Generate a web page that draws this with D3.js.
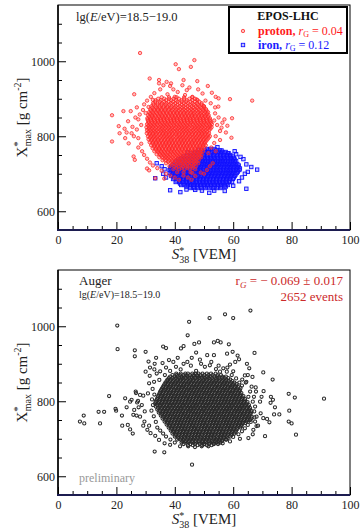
<!DOCTYPE html>
<html>
<head>
<meta charset="utf-8">
<script src="https://cdn.jsdelivr.net/npm/d3@7"></script>
<style>
body { margin: 0; background: #fff; }
svg { display: block; }
text { font-family: "Liberation Serif", "DejaVu Serif", serif; }
</style>
</head>
<body>
<svg width="360" height="530"></svg>
<script>
// axis ticks
var xTicks = [0, 20, 40, 60, 80, 100];
var yTicks = [600, 800, 1000];
var xMinor = [5, 10, 15, 25, 30, 35, 45, 50, 55, 65, 70, 75, 85, 90, 95];
var yMinor = [650, 700, 750, 850, 900, 950, 1050, 1100];

// iron (EPOS-LHC) : dense core read row by row [Xmax, [S38...]] + scattered points
var ironRows = [
  [766, [51, 52.3, 53.6]],
  [762, [49, 50.3, 51.6, 52.9, 54.2, 55.5]],
  [758, [47, 48.2, 49.3, 50.5, 51.6, 52.8, 53.9, 55.1, 56.3, 57.4]],
  [754, [45.6, 46.8, 47.9, 49.1, 50.2, 51.3, 52.5, 53.6, 54.8, 55.9, 57, 58.2]],
  [750, [44.2, 45.3, 46.5, 47.6, 48.8, 49.9, 51, 52.2, 53.3, 54.5, 55.6, 56.7, 57.9, 59]],
  [746, [43, 44.1, 45.3, 46.4, 47.5, 48.7, 49.8, 51, 52.1, 53.2, 54.4, 55.5, 56.6, 57.8, 58.9, 59.8]],
  [742, [42.1, 43.3, 44.4, 45.5, 46.7, 47.8, 49, 50.1, 51.2, 52.4, 53.5, 54.7, 55.8, 56.9, 58.1, 59.2, 60.2]],
  [738, [41.2, 42.3, 43.5, 44.6, 45.7, 46.9, 48, 49.2, 50.3, 51.4, 52.6, 53.7, 54.9, 56, 57.1, 58.3, 59.4, 60.5]],
  [734, [40.6, 41.7, 42.9, 44, 45.1, 46.3, 47.4, 48.6, 49.7, 50.8, 52, 53.1, 54.3, 55.4, 56.5, 57.7, 58.8, 60, 61]],
  [730, [40, 41.2, 42.3, 43.5, 44.6, 45.7, 46.9, 48, 49.2, 50.3, 51.4, 52.6, 53.7, 54.9, 56, 57.1, 58.3, 59.4, 60.6]],
  [726, [39.6, 40.8, 41.9, 43, 44.2, 45.3, 46.5, 47.6, 48.7, 49.9, 51, 52.2, 53.3, 54.4, 55.6, 56.7, 57.9, 59, 60.1, 61.4]],
  [722, [39.2, 40.3, 41.5, 42.6, 43.8, 44.9, 46, 47.2, 48.3, 49.4, 50.6, 51.7, 52.9, 54, 55.1, 56.3, 57.4, 58.6, 59.7, 60.9, 61.9]],
  [718, [38.7, 39.9, 41, 42.2, 43.3, 44.4, 45.6, 46.7, 47.9, 49, 50.1, 51.3, 52.4, 53.6, 54.7, 55.8, 57, 58.1, 59.3, 60.4, 61.6]],
  [714, [38.5, 39.6, 40.8, 41.9, 43, 44.2, 45.3, 46.5, 47.6, 48.7, 49.9, 51, 52.2, 53.3, 54.4, 55.6, 56.7, 57.9, 59, 60.1, 61.3, 62.3]],
  [710, [38.2, 39.4, 40.5, 41.6, 42.8, 43.9, 45.1, 46.2, 47.3, 48.5, 49.6, 50.8, 51.9, 53, 54.2, 55.3, 56.5, 57.6, 58.7, 59.9, 61, 62.1]],
  [706, [38.8, 39.9, 41.1, 42.2, 43.3, 44.5, 45.6, 46.8, 47.9, 49, 50.2, 51.3, 52.5, 53.6, 54.7, 55.9, 57, 58.2, 59.3, 60.4, 61.6]],
  [702, [38.3, 39.5, 40.6, 41.8, 42.9, 44, 45.2, 46.3, 47.5, 48.6, 49.7, 50.9, 52, 53.2, 54.3, 55.4, 56.6, 57.7, 58.9, 60, 61.2]],
  [698, [39.1, 40.3, 41.4, 42.5, 43.7, 44.8, 46, 47.1, 48.2, 49.4, 50.5, 51.7, 52.8, 53.9, 55.1, 56.2, 57.4, 58.5, 59.6, 60.8]],
  [694, [38.8, 40, 41.1, 42.3, 43.4, 44.5, 45.7, 46.8, 48, 49.1, 50.2, 51.4, 52.5, 53.7, 54.8, 55.9, 57.1, 58.2, 59.4, 60.5]],
  [690, [39.8, 40.9, 42, 43.2, 44.3, 45.5, 46.6, 47.7, 48.9, 50, 51.2, 52.3, 53.4, 54.6, 55.7, 56.9, 58, 59.1, 60.2]],
  [686, [39.4, 40.6, 41.7, 42.8, 44, 45.1, 46.3, 47.4, 48.5, 49.7, 50.8, 52, 53.1, 54.2, 55.4, 56.5, 57.7, 58.8, 59.9]],
  [682, [40.6, 41.8, 42.9, 44.1, 45.2, 46.3, 47.5, 48.6, 49.8, 50.9, 52, 53.2, 54.3, 55.5, 56.6, 57.7, 58.9]],
  [678, [40.3, 41.5, 42.6, 43.8, 44.9, 46, 47.2, 48.3, 49.5, 50.6, 51.7, 52.9, 54, 55.2, 56.3, 57.4, 58.6, 59.6]],
  [674, [41.8, 43, 44.1, 45.2, 46.4, 47.5, 48.7, 49.8, 50.9, 52.1, 53.2, 54.4, 55.5, 56.6, 57.8]],
  [670, [42.2, 43.4, 44.5, 45.7, 46.8, 47.9, 49.1, 50.2, 51.4, 52.5, 53.6, 54.8, 55.9, 57.1, 58.2]],
  [666, [44, 45.2, 46.4, 47.6, 48.8, 50, 51.2, 52.4, 53.6, 54.8, 56, 57]],
  [662, [45.3, 46.6, 47.9, 49.2, 50.5, 51.8, 53.1, 54.4, 55.7]]
];
var ironOuter = [
  [64.5, 660], [68.2, 711], [66.2, 718], [65, 705], [63.5, 739], [58.4, 755], [54.6, 771], [38.4, 656],
  [41.9, 651], [51.8, 649], [57.1, 654], [33.3, 688], [33.8, 728], [35.5, 720], [36, 700], [37, 690],
  [44, 658], [47, 657], [49.3, 655], [60, 668], [62, 680], [63, 690], [64, 700], [64.5, 725], [62.5, 745],
  [61, 752], [56, 762], [44.5, 757], [48, 764], [57.5, 666], [53.5, 655], [60.5, 760], [36.5, 712]
];

// proton (EPOS-LHC)
var protonRows = [
  [904, [35.5, 38, 40.6, 43.2, 46]],
  [900, [34.3, 36.4, 38.1, 39.6, 41.4, 43.2, 45, 46.9]],
  [896, [33.4, 35.2, 37, 38.8, 40.5, 42.3, 44.1, 46, 47.8]],
  [892, [33.3, 34.9, 36.4, 37.9, 39.4, 40.9, 42.4, 43.9, 45.4, 46.9, 48.4]],
  [888, [32.6, 34.1, 35.6, 37.1, 38.6, 40.1, 41.6, 43.1, 44.6, 46.1, 47.6, 49.2]],
  [884, [32.7, 34.1, 35.5, 36.9, 38.2, 39.6, 41, 42.4, 43.7, 45.1, 46.5, 47.9, 49.2]],
  [880, [32, 33.4, 34.8, 36.2, 37.5, 38.9, 40.3, 41.7, 43, 44.4, 45.8, 47.2, 48.5, 49.9]],
  [876, [32.3, 33.6, 34.9, 36.1, 37.4, 38.7, 40, 41.2, 42.5, 43.8, 45.1, 46.3, 47.6, 48.9, 50.1]],
  [872, [31.6, 32.9, 34.2, 35.4, 36.7, 38, 39.3, 40.5, 41.8, 43.1, 44.4, 45.6, 46.9, 48.2, 49.5, 50.7]],
  [868, [31.8, 33, 34.2, 35.4, 36.6, 37.8, 39, 40.2, 41.4, 42.6, 43.8, 45, 46.2, 47.4, 48.6, 49.8, 50.9]],
  [864, [31.2, 32.4, 33.6, 34.8, 36, 37.2, 38.4, 39.6, 40.8, 42, 43.2, 44.4, 45.6, 46.8, 48, 49.2, 50.4, 51.4]],
  [860, [31.5, 32.7, 33.9, 35, 36.2, 37.3, 38.5, 39.6, 40.8, 41.9, 43.1, 44.2, 45.4, 46.5, 47.7, 48.8, 50, 51.1]],
  [856, [30.9, 32.1, 33.2, 34.4, 35.5, 36.7, 37.8, 39, 40.1, 41.3, 42.4, 43.6, 44.7, 45.9, 47, 48.2, 49.3, 50.5, 51.6]],
  [852, [31.2, 32.3, 33.4, 34.6, 35.7, 36.8, 37.9, 39.1, 40.2, 41.3, 42.4, 43.6, 44.7, 45.8, 46.9, 48.1, 49.2, 50.3, 51.4]],
  [848, [30.6, 31.7, 32.8, 34, 35.1, 36.2, 37.3, 38.5, 39.6, 40.7, 41.8, 43, 44.1, 45.2, 46.3, 47.5, 48.6, 49.7, 50.8, 52]],
  [844, [30.7, 31.8, 32.9, 34.1, 35.2, 36.3, 37.4, 38.6, 39.7, 40.8, 41.9, 43.1, 44.2, 45.3, 46.4, 47.6, 48.7, 49.8, 50.9, 52.1]],
  [840, [30.9, 32, 33.1, 34.2, 35.3, 36.5, 37.6, 38.7, 39.8, 40.9, 42.1, 43.2, 44.3, 45.4, 46.5, 47.7, 48.8, 49.9, 51, 52.2]],
  [836, [31, 32.2, 33.3, 34.4, 35.6, 36.7, 37.8, 38.9, 40, 41.2, 42.3, 43.4, 44.5, 45.6, 46.8, 47.9, 49, 50.1, 51.2, 52.4]],
  [832, [30.5, 31.6, 32.7, 33.9, 35, 36.1, 37.2, 38.3, 39.5, 40.6, 41.7, 42.8, 43.9, 45.1, 46.2, 47.3, 48.4, 49.5, 50.7, 51.8, 52.7]],
  [828, [30.9, 32, 33.1, 34.2, 35.4, 36.5, 37.6, 38.7, 39.8, 41, 42.1, 43.2, 44.3, 45.4, 46.6, 47.7, 48.8, 49.9, 51, 52.1]],
  [824, [30.3, 31.4, 32.5, 33.6, 34.8, 35.9, 37, 38.1, 39.2, 40.4, 41.5, 42.6, 43.7, 44.8, 46, 47.1, 48.2, 49.3, 50.4, 51.6, 52.6]],
  [820, [31, 32.1, 33.2, 34.4, 35.5, 36.6, 37.7, 38.8, 40, 41.1, 42.2, 43.3, 44.4, 45.6, 46.7, 47.8, 48.9, 50, 51.2, 52.2]],
  [816, [30.5, 31.6, 32.7, 33.8, 35, 36.1, 37.2, 38.3, 39.4, 40.6, 41.7, 42.8, 43.9, 45, 46.2, 47.3, 48.4, 49.5, 50.6, 51.8]],
  [812, [30.9, 32, 33.2, 34.3, 35.4, 36.5, 37.7, 38.8, 39.9, 41, 42.2, 43.3, 44.4, 45.5, 46.6, 47.8, 48.9, 50, 51.1]],
  [808, [30.4, 31.5, 32.6, 33.7, 34.9, 36, 37.1, 38.2, 39.3, 40.5, 41.6, 42.7, 43.8, 44.9, 46.1, 47.2, 48.3, 49.4, 50.5, 51.7]],
  [804, [31.3, 32.4, 33.5, 34.7, 35.8, 36.9, 38, 39.1, 40.3, 41.4, 42.5, 43.6, 44.7, 45.9, 47, 48.1, 49.2, 50.3, 51.4]],
  [800, [30.8, 31.9, 33, 34.1, 35.3, 36.4, 37.5, 38.6, 39.7, 40.9, 42, 43.1, 44.2, 45.3, 46.5, 47.6, 48.7, 49.8, 50.9, 52]],
  [796, [31.5, 32.6, 33.7, 34.9, 36, 37.1, 38.2, 39.3, 40.5, 41.6, 42.7, 43.8, 44.9, 46.1, 47.2, 48.3, 49.4, 50.5, 51.6]],
  [792, [31, 32.1, 33.2, 34.3, 35.5, 36.6, 37.7, 38.8, 39.9, 41.1, 42.2, 43.3, 44.4, 45.5, 46.7, 47.8, 48.9, 50, 51.2]],
  [788, [31.9, 33, 34.2, 35.3, 36.4, 37.5, 38.6, 39.8, 40.9, 42, 43.1, 44.2, 45.4, 46.5, 47.6, 48.7, 49.8, 50.8]],
  [784, [31.4, 32.5, 33.6, 34.7, 35.9, 37, 38.1, 39.2, 40.3, 41.5, 42.6, 43.7, 44.8, 45.9, 47.1, 48.2, 49.3, 50.4]],
  [780, [32.4, 33.5, 34.7, 35.8, 36.9, 38, 39.1, 40.3, 41.4, 42.5, 43.6, 44.7, 45.9, 47, 48.1, 49.2, 50.2]],
  [776, [31.9, 33, 34.1, 35.2, 36.4, 37.5, 38.6, 39.7, 40.8, 42, 43.1, 44.2, 45.3, 46.4, 47.6, 48.7, 49.8, 50.6]],
  [772, [32.9, 34, 35.2, 36.3, 37.4, 38.5, 39.6, 40.8, 41.9, 43, 44.1, 45.2, 46.4, 47.5, 48.6, 49.6]],
  [768, [32.4, 33.5, 34.6, 35.7, 36.9, 38, 39.1, 40.2, 41.3, 42.5, 43.6, 44.7, 45.8, 46.9, 48.1, 49.2, 50.1]],
  [764, [33.5, 34.6, 35.8, 36.9, 38, 39.1, 40.2, 41.4, 42.5, 43.6, 44.7, 45.8, 47, 48.1, 49.1]],
  [760, [33, 34.1, 35.2, 36.3, 37.5, 38.6, 39.7, 40.8, 41.9, 43.1, 44.2, 45.3, 46.4, 47.5, 48.7, 49.6]],
  [756, [34.4, 35.5, 36.6, 37.7, 38.9, 40, 41.1, 42.2, 43.3, 44.5, 45.6, 46.7, 47.8, 48.8]],
  [752, [33.8, 34.9, 36, 37.1, 38.3, 39.4, 40.5, 41.6, 42.7, 43.9, 45, 46.1, 47.2, 48.3, 49.2]],
  [748, [35.3, 36.4, 37.5, 38.6, 39.8, 40.9, 42, 43.1, 44.2, 45.4, 46.5, 47.6, 48.6]],
  [744, [34.7, 35.8, 36.9, 38, 39.2, 40.3, 41.4, 42.5, 43.6, 44.8, 45.9, 47, 48.1, 49]],
  [740, [36.4, 37.5, 38.6, 39.7, 40.9, 42, 43.1, 44.2, 45.3, 46.5, 47.6]],
  [736, [35.8, 36.9, 38, 39.1, 40.3, 41.4, 42.5, 43.6, 44.7, 45.9, 47, 48.2]],
  [732, [37.7, 39.1, 40.3, 41.5, 42.7, 43.9, 45.1, 46.3, 47.5]],
  [728, [37, 38.5, 39.7, 40.9, 42.1, 43.3, 44.5, 45.7, 46.9, 48]],
  [724, [39, 40.5, 42, 43.5, 45, 46.5]],
  [720, [38.2, 39.8, 41.3, 42.8, 44.3, 45.8, 47.2]],
  [716, [40.5, 42.4, 44.3, 46.1]],
  [712, [39.5, 41.5, 43.3, 45.2, 47]],
  [704, [40.8, 43, 45.4]]
];
var protonOuter = [
  [28.1, 1022], [40.3, 992], [41.4, 979], [46.7, 1003], [45.5, 985], [18.5, 786], [18.5, 856], [20.8, 827],
  [21.1, 808], [22.4, 867], [26.1, 912], [24.9, 867], [31.4, 954], [34.6, 950], [37.2, 945], [38.7, 941],
  [43, 950], [47.7, 947], [51.3, 934], [49.5, 914], [52.7, 916], [54, 905], [55, 901], [58.9, 899],
  [66.5, 895], [59.6, 848], [59.4, 796], [55.5, 814], [53.8, 877], [56.3, 836], [26.3, 737], [25.9, 746],
  [24.2, 781], [25.2, 808], [23.5, 810], [27, 877], [29.1, 870], [30.5, 714], [31.2, 709], [33.3, 688],
  [36.4, 687], [41.4, 684], [48.9, 703], [46, 702], [45.7, 684], [34.6, 941], [36.1, 936], [38.4, 934],
  [42.6, 936], [44.1, 923], [39.5, 925], [41, 918], [35, 925], [33, 915], [31.8, 905], [30.5, 895],
  [29.5, 885], [32.5, 897], [37.5, 912], [40, 905], [43.5, 910], [46, 905], [48, 925], [47.5, 898],
  [50.5, 895], [52.3, 888], [54.9, 879], [53.8, 861], [55, 850], [53.5, 842], [54.5, 830], [56, 823],
  [57.5, 810], [54, 800], [55.5, 790], [53.5, 782], [52.5, 770], [54, 760], [51.5, 755], [28, 858],
  [27.5, 845], [28.5, 830], [27, 818], [26, 800], [27.5, 795], [28.5, 780], [27.5, 770], [28.8, 760],
  [29.5, 750], [30.5, 740], [31.5, 730], [32.5, 722], [34, 715], [35.5, 708], [37, 700], [38.5, 695],
  [40, 690], [43, 695], [44.5, 690], [47, 694], [50, 700], [51, 710], [52, 720], [53, 728], [24, 840],
  [22.8, 820], [23, 795], [25.5, 825], [26.5, 850], [30, 862], [31, 878], [45, 930], [50, 880],
  [57, 845], [58, 828]
];

// Auger data
var augerRows = [
  [874, [40.5, 42, 43.6, 44.5, 46, 47.2, 48.1, 49.5, 51, 52.4, 54]],
  [870, [39.2, 40.6, 41.8, 43, 44, 45.2, 46.4, 47.6, 48.8, 50.1, 51.5, 52.9, 54.6, 55.8]],
  [866, [38.4, 39.8, 41, 42.2, 43.1, 44.3, 45.6, 46.5, 47.7, 48.9, 50, 51.1, 52.3, 53.5, 54.6, 56.2, 57.5]],
  [862, [38, 39.2, 40.3, 41.5, 42.6, 43.7, 44.8, 45.9, 47, 48.2, 49.3, 50.4, 51.6, 52.7, 53.9, 55, 56.1, 57.1, 58.3]],
  [858, [37.5, 38.6, 39.7, 40.9, 42, 43, 44.2, 45.3, 46.4, 47.6, 48.6, 49.8, 50.9, 52, 53.1, 54.2, 55.4, 56.5, 57.6, 59]],
  [854, [37.2, 38.3, 39.4, 40.6, 41.7, 42.8, 43.9, 45, 46.2, 47.3, 48.4, 49.5, 50.6, 51.8, 52.9, 54, 55.1, 56.2, 57.4, 58.5, 59.7]],
  [850, [36.8, 38, 39.1, 40.2, 41.3, 42.5, 43.5, 44.7, 45.8, 46.9, 48, 49.1, 50.3, 51.4, 52.5, 53.6, 54.7, 55.9, 57, 58.1, 59.3, 60.4]],
  [846, [36.5, 37.6, 38.7, 39.9, 41, 42.1, 43.2, 44.3, 45.5, 46.6, 47.7, 48.8, 49.9, 51.1, 52.2, 53.3, 54.4, 55.5, 56.7, 57.8, 58.9, 60.1, 61.2]],
  [842, [36.2, 37.4, 38.5, 39.6, 40.8, 41.9, 43, 44.1, 45.2, 46.4, 47.5, 48.6, 49.7, 50.8, 51.9, 53.1, 54.2, 55.3, 56.4, 57.5, 58.7, 59.8, 61]],
  [838, [35.9, 37, 38.2, 39.3, 40.4, 41.5, 42.6, 43.8, 44.9, 46, 47.1, 48.2, 49.4, 50.5, 51.6, 52.7, 53.8, 55, 56.1, 57.2, 58.3, 59.4, 60.6, 61.8]],
  [834, [35.6, 36.8, 37.9, 39, 40.2, 41.3, 42.4, 43.5, 44.7, 45.8, 46.9, 48, 49.1, 50.3, 51.4, 52.5, 53.6, 54.8, 55.9, 57, 58.1, 59.2, 60.4, 61.6]],
  [830, [35.3, 36.5, 37.6, 38.7, 39.8, 40.9, 42.1, 43.2, 44.3, 45.4, 46.5, 47.7, 48.8, 49.9, 51, 52.1, 53.3, 54.4, 55.5, 56.6, 57.7, 58.9, 60, 61.1, 62.3]],
  [826, [35, 36.2, 37.3, 38.4, 39.6, 40.7, 41.8, 42.9, 44, 45.2, 46.3, 47.4, 48.5, 49.7, 50.8, 51.9, 53, 54.2, 55.3, 56.4, 57.5, 58.7, 59.8, 60.9, 62.1]],
  [822, [34.8, 35.9, 37, 38.2, 39.3, 40.4, 41.5, 42.6, 43.8, 44.9, 46, 47.1, 48.2, 49.4, 50.5, 51.6, 52.7, 53.8, 55, 56.1, 57.2, 58.3, 59.4, 60.6, 61.7, 62.8]],
  [818, [34.6, 35.7, 36.8, 37.9, 39, 40.2, 41.3, 42.4, 43.5, 44.6, 45.8, 46.9, 48, 49.1, 50.2, 51.4, 52.5, 53.6, 54.7, 55.8, 57, 58.1, 59.2, 60.3, 61.5, 62.6]],
  [814, [34.3, 35.4, 36.6, 37.7, 38.8, 39.9, 41, 42.2, 43.3, 44.4, 45.5, 46.6, 47.8, 48.9, 50, 51.1, 52.2, 53.4, 54.5, 55.6, 56.7, 57.8, 59, 60.1, 61.2, 62.4, 63.5]],
  [810, [34.1, 35.2, 36.3, 37.4, 38.5, 39.7, 40.8, 41.9, 43, 44.2, 45.3, 46.4, 47.5, 48.6, 49.8, 50.9, 52, 53.1, 54.2, 55.4, 56.5, 57.6, 58.7, 59.9, 61, 62.1, 63.3]],
  [806, [33.9, 35, 36.1, 37.2, 38.3, 39.5, 40.6, 41.7, 42.8, 43.9, 45.1, 46.2, 47.3, 48.4, 49.5, 50.7, 51.8, 52.9, 54, 55.1, 56.3, 57.4, 58.5, 59.6, 60.8, 61.9, 63, 64.1]],
  [802, [33.6, 34.8, 35.9, 37, 38.1, 39.3, 40.4, 41.5, 42.6, 43.7, 44.9, 46, 47.1, 48.2, 49.3, 50.5, 51.6, 52.7, 53.8, 55, 56.1, 57.2, 58.3, 59.4, 60.6, 61.7, 62.8, 64]],
  [798, [33.4, 34.6, 35.7, 36.8, 37.9, 39.1, 40.2, 41.3, 42.4, 43.5, 44.7, 45.8, 46.9, 48, 49.1, 50.3, 51.4, 52.5, 53.6, 54.8, 55.9, 57, 58.1, 59.2, 60.4, 61.5, 62.6, 63.8, 64.9]],
  [794, [33.3, 34.4, 35.5, 36.6, 37.8, 38.9, 40, 41.1, 42.2, 43.4, 44.5, 45.6, 46.7, 47.8, 49, 50.1, 51.2, 52.3, 53.4, 54.6, 55.7, 56.8, 57.9, 59.1, 60.2, 61.3, 62.4, 63.6, 64.7]],
  [790, [33.9, 35, 36.2, 37.3, 38.4, 39.5, 40.7, 41.8, 42.9, 44, 45.1, 46.3, 47.4, 48.5, 49.6, 50.7, 51.9, 53, 54.1, 55.2, 56.3, 57.5, 58.6, 59.7, 60.8, 62, 63.1, 64.2, 65.4]],
  [786, [33.5, 34.9, 36, 37.1, 38.3, 39.4, 40.5, 41.6, 42.7, 43.9, 45, 46.1, 47.2, 48.3, 49.5, 50.6, 51.7, 52.8, 53.9, 55.1, 56.2, 57.3, 58.4, 59.5, 60.7, 61.8, 62.9, 64, 65.2]],
  [782, [34.3, 35.5, 36.6, 37.7, 38.9, 40, 41.1, 42.2, 43.3, 44.5, 45.6, 46.7, 47.8, 48.9, 50.1, 51.2, 52.3, 53.4, 54.5, 55.7, 56.8, 57.9, 59, 60.2, 61.3, 62.4, 63.5, 64.7, 65.8]],
  [778, [34, 35.3, 36.4, 37.5, 38.7, 39.8, 40.9, 42, 43.1, 44.3, 45.4, 46.5, 47.6, 48.7, 49.9, 51, 52.1, 53.2, 54.3, 55.5, 56.6, 57.7, 58.8, 60, 61.1, 62.2, 63.3, 64.5, 65.6]],
  [774, [34.8, 36, 37.1, 38.2, 39.4, 40.5, 41.6, 42.7, 43.8, 45, 46.1, 47.2, 48.3, 49.4, 50.6, 51.7, 52.8, 53.9, 55, 56.2, 57.3, 58.4, 59.5, 60.7, 61.8, 62.9, 64, 65.2, 66.3]],
  [770, [34.5, 35.8, 36.9, 38, 39.1, 40.3, 41.4, 42.5, 43.6, 44.7, 45.9, 47, 48.1, 49.2, 50.3, 51.5, 52.6, 53.7, 54.8, 56, 57.1, 58.2, 59.3, 60.4, 61.6, 62.7, 63.8, 65, 66.1]],
  [766, [35.5, 36.6, 37.8, 38.9, 40, 41.1, 42.2, 43.4, 44.5, 45.6, 46.7, 47.8, 49, 50.1, 51.2, 52.3, 53.4, 54.6, 55.7, 56.8, 57.9, 59.1, 60.2, 61.3, 62.4, 63.6, 64.7, 65.9]],
  [762, [35.2, 36.4, 37.5, 38.6, 39.8, 40.9, 42, 43.1, 44.2, 45.4, 46.5, 47.6, 48.7, 49.8, 51, 52.1, 53.2, 54.3, 55.4, 56.6, 57.7, 58.8, 59.9, 61.1, 62.2, 63.3, 64.4, 65.6]],
  [758, [36.1, 37.2, 38.4, 39.5, 40.6, 41.7, 42.8, 44, 45.1, 46.2, 47.3, 48.4, 49.6, 50.7, 51.8, 52.9, 54, 55.2, 56.3, 57.4, 58.5, 59.7, 60.8, 61.9, 63, 64.2, 65.3]],
  [754, [35.8, 37, 38.1, 39.2, 40.4, 41.5, 42.6, 43.7, 44.8, 46, 47.1, 48.2, 49.3, 50.4, 51.6, 52.7, 53.8, 54.9, 56, 57.2, 58.3, 59.4, 60.5, 61.7, 62.8, 63.9, 65, 66.2]],
  [750, [36.8, 37.9, 39, 40.2, 41.3, 42.4, 43.5, 44.6, 45.8, 46.9, 48, 49.1, 50.2, 51.4, 52.5, 53.6, 54.7, 55.8, 57, 58.1, 59.2, 60.3, 61.5, 62.6, 63.7, 64.9, 65.8]],
  [746, [36.5, 37.6, 38.8, 39.9, 41, 42.1, 43.2, 44.4, 45.5, 46.6, 47.7, 48.8, 50, 51.1, 52.2, 53.3, 54.4, 55.6, 56.7, 57.8, 58.9, 60.1, 61.2, 62.3, 63.4, 64.6]],
  [742, [37.5, 38.6, 39.8, 40.9, 42, 43.1, 44.2, 45.4, 46.5, 47.6, 48.7, 49.8, 51, 52.1, 53.2, 54.3, 55.4, 56.6, 57.7, 58.8, 59.9, 61.1, 62.2, 63.3, 64.2]],
  [738, [37.2, 38.3, 39.4, 40.6, 41.7, 42.8, 43.9, 45, 46.2, 47.3, 48.4, 49.5, 50.6, 51.8, 52.9, 54, 55.1, 56.2, 57.4, 58.5, 59.6, 60.7, 61.9, 63]],
  [734, [38.2, 39.3, 40.5, 41.6, 42.7, 43.8, 44.9, 46.1, 47.2, 48.3, 49.4, 50.5, 51.7, 52.8, 53.9, 55, 56.1, 57.3, 58.4, 59.5, 60.6, 61.8, 62.8]],
  [730, [37.9, 39, 40.1, 41.2, 42.4, 43.5, 44.6, 45.7, 46.8, 48, 49.1, 50.2, 51.3, 52.4, 53.6, 54.7, 55.8, 56.9, 58, 59.2, 60.3, 61.4, 62.5]],
  [726, [38.9, 40, 41.1, 42.3, 43.4, 44.5, 45.6, 46.7, 47.9, 49, 50.1, 51.2, 52.3, 53.5, 54.6, 55.7, 56.8, 57.9, 59.1, 60.2, 61.4]],
  [722, [38.6, 39.7, 40.8, 41.9, 43, 44.2, 45.3, 46.4, 47.5, 48.6, 49.8, 50.9, 52, 53.1, 54.2, 55.4, 56.5, 57.6, 58.7, 59.9, 61]],
  [718, [39.5, 40.7, 41.8, 42.9, 44, 45.2, 46.3, 47.4, 48.5, 49.6, 50.8, 51.9, 53, 54.1, 55.2, 56.4, 57.5, 58.6, 59.7, 60.8]],
  [714, [39.2, 40.4, 41.5, 42.6, 43.7, 44.9, 46, 47.1, 48.2, 49.3, 50.5, 51.6, 52.7, 53.8, 54.9, 56.1, 57.2, 58.3, 59.4, 60.5]],
  [710, [40.3, 41.4, 42.5, 43.7, 44.8, 45.9, 47, 48.1, 49.3, 50.4, 51.5, 52.6, 53.7, 54.9, 56, 57.1, 58.2, 59.4]],
  [706, [40, 41.1, 42.2, 43.3, 44.5, 45.6, 46.7, 47.8, 48.9, 50.1, 51.2, 52.3, 53.4, 54.5, 55.7, 56.8, 57.9, 59]],
  [702, [41.2, 42.3, 43.5, 44.6, 45.7, 46.8, 47.9, 49.1, 50.2, 51.3, 52.4, 53.5, 54.7, 55.8, 56.9, 58.1]],
  [698, [40.8, 42, 43.1, 44.2, 45.3, 46.4, 47.6, 48.7, 49.8, 50.9, 52, 53.2, 54.3, 55.4, 56.5, 57.7]],
  [694, [42.6, 43.7, 44.9, 46, 47.1, 48.2, 49.4, 50.5, 51.6, 52.7, 53.9, 55, 56.2]],
  [690, [42.3, 43.5, 44.8, 46, 47.2, 48.3, 49.5, 50.6, 51.8, 53, 54.3, 55.6]],
  [686, [45.3, 46.9, 48.5, 50.1, 51.7, 53.4, 54.8]],
  [683, [44.5, 46.2, 47.8, 49.4, 51, 52.6]]
];
var augerOuter = [
  [7.5, 746], [9, 741], [8.8, 762], [13.9, 772], [15.8, 772], [14.4, 741], [17.5, 814], [19.7, 780],
  [19.9, 775], [20.3, 1002], [20.4, 939], [21.9, 762], [22, 735], [23.5, 784], [24.7, 725], [25.6, 714],
  [26.3, 936], [26.3, 920], [26.6, 826], [30, 932], [31, 906], [33.1, 666], [36.4, 664], [45.9, 631],
  [44.9, 1012], [44.4, 976], [51.9, 1022], [57.2, 1032], [60, 1022], [65.9, 1042], [58.5, 952], [67.3, 929],
  [70.3, 877], [73.5, 858], [70.4, 827], [72.9, 812], [73.6, 804], [72.8, 796], [74.3, 784], [75.8, 765],
  [74, 765], [71.6, 753], [72.4, 744], [79, 820], [81.1, 810], [79.2, 775], [79, 746], [80, 741],
  [81.5, 711], [91.1, 807], [70.9, 707], [68.5, 735], [67.3, 757], [67.7, 837],
  [37, 942], [36, 946], [42.1, 941], [43, 947], [46.7, 953], [48.3, 957], [47.3, 930], [53.4, 957],
  [54.7, 961], [55.7, 957], [53.4, 923], [57.9, 927], [59.8, 932], [61.5, 922], [58.9, 898], [60.7, 905],
  [62, 912], [64.7, 900], [65.5, 888], [64, 869], [66.6, 865], [64.3, 850], [63.1, 858], [33.6, 916],
  [33.1, 900], [35.8, 902], [38, 910], [39.5, 905], [41, 916], [44.3, 905], [45.8, 916], [48.6, 911],
  [51.1, 923], [52, 896], [50.3, 892], [30, 879], [31.4, 868], [32.9, 852], [31.2, 848], [32.4, 833],
  [30.8, 821], [29.2, 815], [28.1, 817], [26.7, 822], [25.2, 804], [27.1, 797], [28.7, 790], [27.6, 784],
  [29.7, 773], [25.8, 764], [28.1, 759], [29.6, 746], [29.2, 735], [31.2, 735], [30.6, 724], [31.7, 715],
  [33.3, 708], [34.6, 697], [36.5, 688], [38.4, 684], [41.8, 680], [44.6, 680], [46.9, 678], [49.2, 680],
  [51.5, 680], [53.2, 687], [56.4, 688], [58.9, 693], [62.3, 700], [65.2, 702], [66.7, 712], [66.9, 724],
  [68, 734], [67.5, 746], [68, 759], [67.2, 773], [67.5, 786], [66.7, 799], [67.1, 812], [67.8, 826],
  [65.8, 826], [66.3, 839], [65.2, 812], [62.1, 850], [61, 861], [59.5, 870], [57.8, 879], [56.6, 888],
  [55.5, 879], [54.1, 886], [45.5, 895], [47.3, 881], [40.4, 892], [38.4, 881], [36.6, 870], [34.7, 857],
  [33.8, 874], [66.3, 759], [70.3, 755], [69.4, 768], [69.7, 812], [69.2, 799], [23, 808], [24.7, 799],
  [26.1, 777], [27.4, 801], [26.9, 762], [23.9, 737], [32.5, 790], [32, 775], [32.8, 760], [33.5, 745],
  [32.2, 805], [33, 818], [34, 730], [35, 722], [36, 714], [37, 706], [38.5, 698], [40, 690], [43, 686],
  [50, 686], [55, 690], [57.5, 698], [60, 705], [61.8, 712], [63, 720], [64, 728], [65, 737], [66, 745],
  [64.5, 852], [63, 842], [62.5, 835], [65, 870], [60, 880], [58, 890], [55, 895], [52.5, 905], [49, 900],
  [43, 900], [42, 885], [37, 890], [35, 880], [33, 885], [31.5, 890]
];

function rowsToPoints(rows) {
  return rows.flatMap(function (r) { return r[1].map(function (s) { return [s, r[0]]; }); });
}
var iron = ironOuter.concat(rowsToPoints(ironRows));
var proton = protonOuter.concat(rowsToPoints(protonRows));
var auger = augerOuter.concat(rowsToPoints(augerRows));

var svg = d3.select("svg");
var serif = '"Liberation Serif", "DejaVu Serif", serif';

function panel(top) {
  var g = svg.append("g");
  var x = d3.scaleLinear().domain([0, 100]).range([58, 350]);
  var y = d3.scaleLinear().domain([550, 1150]).range([top + 225, top]);

  g.append("rect")
    .attr("x", 58).attr("y", top).attr("width", 292).attr("height", 225)
    .attr("fill", "none").attr("stroke", "#000").attr("stroke-width", 1);

  var marks = g.append("g");

  // y axis, ticks inward
  g.append("g").attr("transform", "translate(58,0)")
    .call(d3.axisLeft(y).tickValues(yTicks).tickSize(-8).tickSizeOuter(0).tickPadding(3).tickFormat(d3.format("d")))
    .call(function (a) { a.select(".domain").remove(); });
  g.append("g").attr("transform", "translate(58,0)")
    .call(d3.axisLeft(y).tickValues(yMinor).tickSize(-4).tickSizeOuter(0).tickFormat(""))
    .call(function (a) { a.select(".domain").remove(); });
  // x axis
  g.append("g").attr("transform", "translate(0," + (top + 225) + ")")
    .call(d3.axisBottom(x).tickValues(xTicks).tickSize(-8).tickSizeOuter(0).tickPadding(5))
    .call(function (a) { a.select(".domain").remove(); });
  g.append("g").attr("transform", "translate(0," + (top + 225) + ")")
    .call(d3.axisBottom(x).tickValues(xMinor).tickSize(-4).tickSizeOuter(0).tickFormat(""))
    .call(function (a) { a.select(".domain").remove(); });

  g.selectAll(".tick line").attr("stroke", "#000").attr("stroke-width", 1);
  g.selectAll(".tick text").attr("font-family", serif).attr("font-size", 12).attr("fill", "#222");

  g.append("line").attr("x1", 58).attr("x2", 58).attr("y1", top).attr("y2", top + 225)
    .attr("stroke", "#000").attr("stroke-width", 1.5);
  g.append("line").attr("x1", 57).attr("x2", 350).attr("y1", top + 225).attr("y2", top + 225)
    .attr("stroke", "#1c1c50").attr("stroke-width", 2);

  // x title
  var tx = g.append("text").attr("x", 204).attr("y", top + 254)
    .attr("text-anchor", "middle").attr("font-size", 15).attr("fill", "#222");
  tx.append("tspan").attr("font-style", "italic").text("S");
  tx.append("tspan").attr("dy", -5).attr("font-size", 10).text("*");
  tx.append("tspan").attr("dx", -5).attr("dy", 9).attr("font-size", 10).text("38");
  tx.append("tspan").attr("dy", -4).text(" [VEM]");

  // y title
  var ty = g.append("text").attr("transform", "translate(27," + (top + 112.5) + ") rotate(-90)")
    .attr("text-anchor", "middle").attr("font-size", 15).attr("fill", "#222");
  ty.append("tspan").text("X");
  ty.append("tspan").attr("dy", -6).attr("font-size", 11).text("*");
  ty.append("tspan").attr("dx", -5).attr("dy", 10).attr("font-size", 10).text("max");
  ty.append("tspan").attr("dy", -4).text(" [g cm");
  ty.append("tspan").attr("dy", -6).attr("font-size", 10).text("-2");
  ty.append("tspan").attr("dy", 6).text("]");

  return { g: g, marks: marks, x: x, y: y };
}

function lgText(g, x, y, size) {
  var t = g.append("text").attr("x", x).attr("y", y).attr("font-size", size).attr("fill", "#222");
  t.append("tspan").text("lg(");
  t.append("tspan").attr("font-style", "italic").text("E");
  t.append("tspan").text("/eV)=18.5\u221219.0");
}

// ---- top panel: EPOS-LHC simulation
var p1 = panel(5);
p1.marks.selectAll("rect.fe").data(iron).enter().append("rect")
  .attr("x", function (d) { return p1.x(d[0]) - 1.7; })
  .attr("y", function (d) { return p1.y(d[1]) - 1.7; })
  .attr("width", 3.4).attr("height", 3.4)
  .attr("fill", "rgba(60,60,255,0.3)").attr("stroke", "#1010ff").attr("stroke-width", 0.9);
p1.marks.selectAll("circle.p").data(proton).enter().append("circle")
  .attr("cx", function (d) { return p1.x(d[0]); })
  .attr("cy", function (d) { return p1.y(d[1]); })
  .attr("r", 1.7)
  .attr("fill", "rgba(255,70,70,0.35)").attr("stroke", "rgba(255,35,35,0.75)").attr("stroke-width", 1);

lgText(p1.g, 76, 21, 12.5);

var leg = p1.g.append("g");
leg.append("rect").attr("x", 229).attr("y", 7).attr("width", 118).attr("height", 46)
  .attr("fill", "#fff").attr("stroke", "#000").attr("stroke-width", 2);
leg.append("text").attr("x", 288).attr("y", 19.5).attr("text-anchor", "middle")
  .attr("font-size", 12).attr("font-weight", "bold").attr("fill", "#111").text("EPOS-LHC");
leg.append("circle").attr("cx", 243).attr("cy", 31).attr("r", 1.7)
  .attr("fill", "rgba(255,70,70,0.35)").attr("stroke", "rgba(255,35,35,0.75)");
leg.append("rect").attr("x", 241.3).attr("y", 43.3).attr("width", 3.4).attr("height", 3.4)
  .attr("fill", "rgba(60,60,255,0.3)").attr("stroke", "#1010ff").attr("stroke-width", 0.9);
function legLine(y, name, val, col) {
  var t = leg.append("text").attr("x", 258).attr("y", y).attr("font-size", 12).attr("fill", col);
  t.append("tspan").attr("font-weight", "bold").text(name + ", ");
  t.append("tspan").attr("font-style", "italic").text("r");
  t.append("tspan").attr("font-size", 8).attr("dy", 2).text("G");
  t.append("tspan").attr("dy", -2).text(" = " + val);
}
legLine(34.5, "proton", "0.04", "#ff1a1a");
legLine(49, "iron", "0.12", "#1a1aff");

// ---- bottom panel: Auger data
var p2 = panel(270);
p2.marks.selectAll("circle.a").data(auger).enter().append("circle")
  .attr("cx", function (d) { return p2.x(d[0]); })
  .attr("cy", function (d) { return p2.y(d[1]); })
  .attr("r", 1.6)
  .attr("fill", "none").attr("stroke", "#2a2a2a").attr("stroke-width", 1.05);

p2.g.append("text").attr("x", 79).attr("y", 285).attr("font-size", 13).attr("fill", "#222").text("Auger");
lgText(p2.g, 79, 298, 10);
var rg = p2.g.append("text").attr("x", 343).attr("y", 285).attr("text-anchor", "end")
  .attr("font-size", 13).attr("fill", "#cc2a2a");
rg.append("tspan").text("r");
rg.append("tspan").attr("font-style", "italic").attr("font-size", 9).attr("dy", 3).text("G");
rg.append("tspan").attr("dy", -3).text(" = \u2212 0.069 \u00b1 0.017");
p2.g.append("text").attr("x", 343).attr("y", 301).attr("text-anchor", "end")
  .attr("font-size", 13).attr("fill", "#cc2a2a").text("2652 events");
p2.g.append("text").attr("x", 79).attr("y", 482).attr("font-size", 12).attr("fill", "#999").text("preliminary");
</script>
</body>
</html>
